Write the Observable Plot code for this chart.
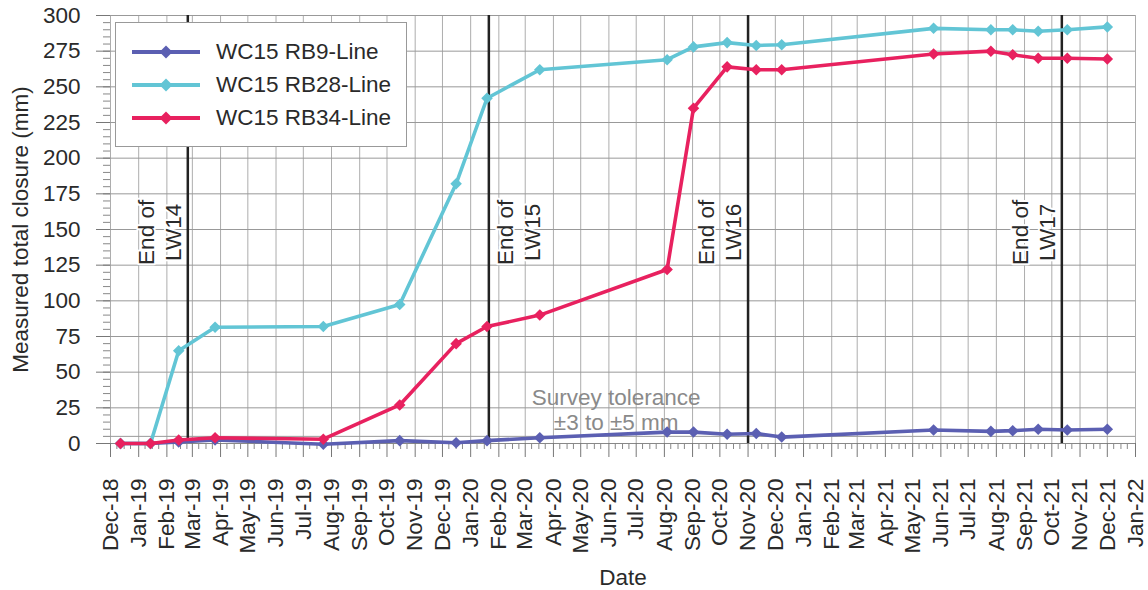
<!DOCTYPE html>
<html><head><meta charset="utf-8">
<script src="https://cdn.jsdelivr.net/npm/d3@7"></script>
<script src="https://cdn.jsdelivr.net/npm/@observablehq/plot@0.6"></script>
<style>
body{margin:0;background:#fff;font-family:"Liberation Sans",Arial,sans-serif;}
#wrap{position:relative;width:1148px;height:590px;overflow:hidden;}
#legend{position:absolute;left:115px;top:22px;width:292px;height:125px;background:#fff;border:1px solid #999;box-sizing:border-box;}
.row{position:absolute;left:0;width:290px;height:26px;}
.row svg{position:absolute;left:16px;top:3px;}
.row span{position:absolute;left:100px;top:0;font-size:22.5px;line-height:26px;color:#2a2a2a;white-space:nowrap;}
</style></head><body><div id="wrap"><div id="legend"></div></div>
<script>
// ---- data ----
const dates = ["2018-12-12","2019-01-14","2019-02-14","2019-03-26","2019-07-23","2019-10-15","2019-12-16","2020-01-19","2020-03-17","2020-08-04","2020-09-02","2020-10-09","2020-11-10","2020-12-08","2021-05-24","2021-07-26","2021-08-19","2021-09-16","2021-10-18","2021-12-01"];
const rb9  = [0, 0, 1, 2.5, -0.5, 2, 0.5, 2, 4, 8, 8, 6.5, 7, 4.5, 9.5, 8.5, 9, 10, 9.5, 10];
const rb28 = [0, 0, 65, 81.5, 82, 97.5, 182, 242, 262, 269, 278, 281, 279, 279.5, 291, 290, 290, 289, 290, 292];
const rb34 = [0, 0, 2.5, 4, 3, 27, 70, 82, 90, 122, 235, 264, 262, 262, 273, 275, 272.5, 270, 270, 269.5];
const seriesNames = ["WC15 RB9-Line", "WC15 RB28-Line", "WC15 RB34-Line"];
const seriesColors = ["#5b5fb2", "#62c5d5", "#e8215f"];
const eventDates = ["2019-02-24", "2020-01-21", "2020-11-01", "2021-10-12"];
const eventLabels = ["End of\nLW14", "End of\nLW15", "End of\nLW16", "End of\nLW17"];
const eventLabelRight = [false, true, false, false];
const eventLabelValue = 148;
const toleranceText = "Survey tolerance\n±3 to ±5 mm";
const toleranceDate = "2020-06-09";
const toleranceValue = 24;
const toleranceLine = [5];
const yTicks = d3.range(0, 301, 25);
const yMinorTicks = d3.range(0, 301, 5);
const xLabel = "Date";
const yLabel = "Measured total closure (mm)";

// ---- build ----
const parse = d3.utcParse("%Y-%m-%d");
const seriesValues = [rb9, rb28, rb34];
const data = seriesNames.map((name, i) => dates.map((d, j) => ({series: name, date: parse(d), value: seriesValues[i][j]})));
const months = d3.utcMonth.range(new Date(Date.UTC(2018, 11, 1)), new Date(Date.UTC(2022, 0, 2)));
const minorX = months.slice(0, -1).flatMap(m => [8, 16, 23].map(d => new Date(Date.UTC(m.getUTCFullYear(), m.getUTCMonth(), d))));
const events = eventDates.map((d, i) => ({date: parse(d), label: eventLabels[i], right: eventLabelRight[i], value: eventLabelValue}));
const tol = [{date: parse(toleranceDate), value: toleranceValue, text: toleranceText}];

const seriesMarks = data.flatMap((rows, i) => [
  Plot.line(rows, {x: "date", y: "value", stroke: seriesColors[i], strokeWidth: 3.6}),
  Plot.dot(rows, {x: "date", y: "value", symbol: "diamond2", fill: seriesColors[i], r: 5.2})
]);

const chart = Plot.plot({
  width: 1148, height: 590,
  marginLeft: 110, marginRight: 13, marginTop: 15, marginBottom: 147,
  style: {fontFamily: "Liberation Sans, Arial, sans-serif", fontSize: "22.5px", color: "#2a2a2a", background: "#fff"},
  x: {type: "utc", domain: [months[0], months[months.length - 1]]},
  y: {domain: [0, 300]},
  marks: [
    Plot.gridX(months, {stroke: "#adadad", strokeOpacity: 1}),
    Plot.gridY(yTicks, {stroke: "#999", strokeOpacity: 1}),
    Plot.ruleY(toleranceLine, {stroke: "#999"}),
    Plot.ruleY([0], {stroke: "#888"}),
    Plot.axisX(minorX, {tickSize: 6, tickFormat: () => "", stroke: "#888", label: null}),
    Plot.axisX(months, {tickSize: 14, tickPadding: 21, tickRotate: -90, tickFormat: d3.utcFormat("%b-%y"), stroke: "#777", label: null}),
    Plot.axisY(yMinorTicks, {tickSize: 7, tickFormat: () => "", stroke: "#888", label: null}),
    Plot.axisY(yTicks, {tickSize: 14, tickPadding: 16, stroke: "#777", label: null}),
    Plot.ruleX(events, {x: "date", stroke: "#222", strokeWidth: 2.5}),
    Plot.text(events.filter(d => !d.right), {x: "date", y: "value", text: "label", rotate: -90, dx: -29, lineHeight: 1.18, fill: "#2a2a2a", stroke: "white", strokeWidth: 4}),
    Plot.text(events.filter(d => d.right), {x: "date", y: "value", text: "label", rotate: -90, dx: 29, lineHeight: 1.18, fill: "#2a2a2a", stroke: "white", strokeWidth: 4}),
    Plot.text(tol, {x: "date", y: "value", text: "text", fill: "#8a8a8a", lineHeight: 1.12}),
    ...seriesMarks,
    Plot.text([xLabel], {frameAnchor: "bottom", dy: 141, fill: "#2a2a2a"}),
    Plot.text([yLabel], {frameAnchor: "left", textAnchor: "middle", rotate: -90, dx: -90, fill: "#2a2a2a"})
  ]
});
const wrap = document.getElementById("wrap");
wrap.insertBefore(chart, wrap.firstChild);

// ---- legend ----
const legend = document.getElementById("legend");
const rowCenters = [29, 62, 95];
seriesNames.forEach((name, i) => {
  const row = document.createElement("div");
  row.className = "row";
  row.style.top = (rowCenters[i] - 13) + "px";
  row.innerHTML = `<svg width="70" height="20"><line x1="0" y1="10" x2="68" y2="10" stroke="${seriesColors[i]}" stroke-width="4"/><path d="M34,3.5 L40.5,10 L34,16.5 L27.5,10 Z" fill="${seriesColors[i]}"/></svg><span>${name}</span>`;
  legend.appendChild(row);
});
</script>
</body></html>
